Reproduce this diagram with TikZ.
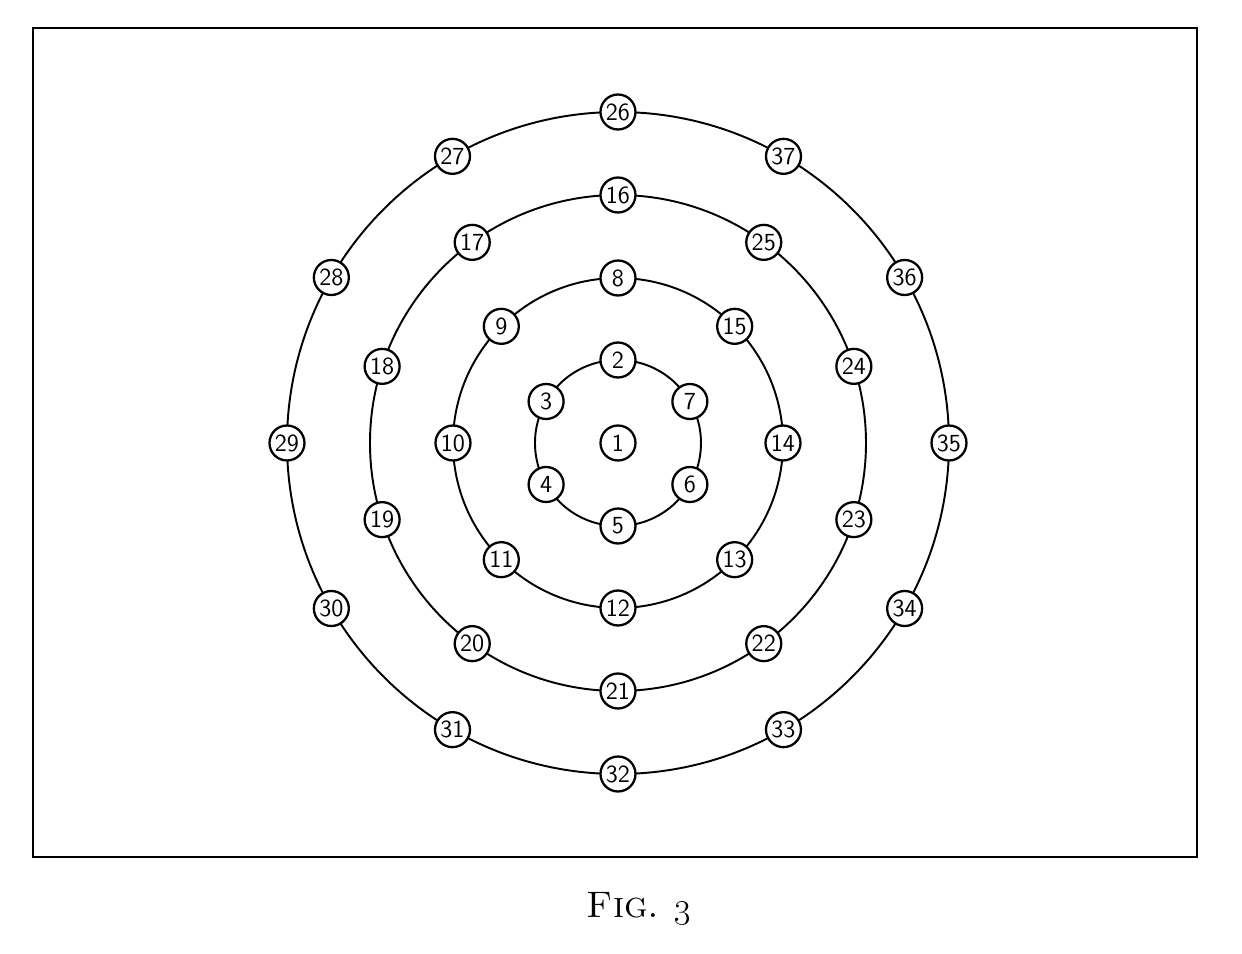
\documentclass[tikz,border=0pt]{standalone}
\usepackage{amsmath}
\usepackage{amssymb}
\usepackage{tikz}

\begin{document}
\begin{tikzpicture}[x=0.02cm,y=0.02cm,line width=1.1pt,
    num/.style={circle,draw,fill=white,line width=1.3pt,minimum size=0.7cm,inner sep=0pt,font=\sffamily\fontsize{14}{16}\selectfont}]
    \useasboundingbox (-618,-511) rectangle (624,443);
    \draw[line width=1.6pt] (-585,-414) rectangle (579,415);
    % rings
    \coordinate (c) at (0,0);
    \draw (c) circle[radius=83] (c) circle[radius=165] (c) circle[radius=248] (c) circle[radius=331];
    % centre and first ring
    \node at (c) [num] (n1) {1};
    \node at (90:83) [num] (n2) {2};
    \node at (150:83) [num] (n3) {3};
    \node at (210:83) [num] (n4) {4};
    \node at (270:83) [num] (n5) {5};
    \node at (330:83) [num] (n6) {6};
    \node at (30:83) [num] (n7) {7};
    % second ring
    \node at (90:165) [num] (n8) {8};
    \node at (135:165) [num] (n9) {9};
    \node at (180:165) [num] (n10) {10};
    \node at (225:165) [num] (n11) {11};
    \node at (270:165) [num] (n12) {12};
    \node at (315:165) [num] (n13) {13};
    \node at (0:165) [num] (n14) {14};
    \node at (45:165) [num] (n15) {15};
    % third ring
    \node at (90:248) [num] (n16) {16};
    \node at (126:248) [num] (n17) {17};
    \node at (162:248) [num] (n18) {18};
    \node at (198:248) [num] (n19) {19};
    \node at (234:248) [num] (n20) {20};
    \node at (270:248) [num] (n21) {21};
    \node at (306:248) [num] (n22) {22};
    \node at (342:248) [num] (n23) {23};
    \node at (18:248) [num] (n24) {24};
    \node at (54:248) [num] (n25) {25};
    % fourth ring
    \node at (90:331) [num] (n26) {26};
    \node at (120:331) [num] (n27) {27};
    \node at (150:331) [num] (n28) {28};
    \node at (180:331) [num] (n29) {29};
    \node at (210:331) [num] (n30) {30};
    \node at (240:331) [num] (n31) {31};
    \node at (270:331) [num] (n32) {32};
    \node at (300:331) [num] (n33) {33};
    \node at (330:331) [num] (n34) {34};
    \node at (0:331) [num] (n35) {35};
    \node at (30:331) [num] (n36) {36};
    \node at (60:331) [num] (n37) {37};
    % caption
    \node at (21,-474) [anchor=base,font=\fontsize{21}{25}\selectfont] (cap) {\textsc{Fig.} \oldstylenums{3}};
\end{tikzpicture}
\end{document}
